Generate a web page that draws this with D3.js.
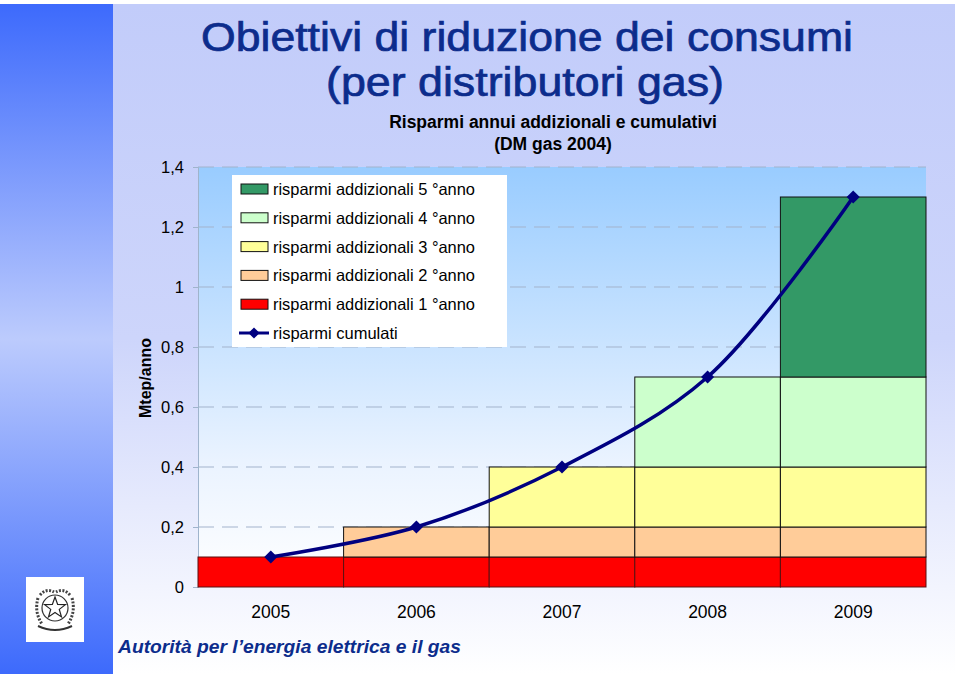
<!DOCTYPE html>
<html><head><meta charset="utf-8">
<script src="https://cdn.jsdelivr.net/npm/d3@7"></script>
<style>html,body{margin:0;padding:0;background:#fff;}svg{display:block;}</style>
</head><body>
<script>
const years = ["2005","2006","2007","2008","2009"];
const series = [
  {name:"risparmi addizionali 1°anno", color:"#ff0000"},
  {name:"risparmi addizionali 2°anno", color:"#ffcc99"},
  {name:"risparmi addizionali 3°anno", color:"#ffff99"},
  {name:"risparmi addizionali 4°anno", color:"#ccffcc"},
  {name:"risparmi addizionali 5°anno", color:"#339966"}
];
const anno1 = [0.1, 0.1, 0.1, 0.1, 0.1];
const anno2 = [0,   0.1, 0.1, 0.1, 0.1];
const anno3 = [0,   0,   0.2, 0.2, 0.2];
const anno4 = [0,   0,   0,   0.3, 0.3];
const anno5 = [0,   0,   0,   0,   0.6];
const cumulati = [0.1, 0.2, 0.4, 0.7, 1.3];
const yTicks = [0, 0.2, 0.4, 0.6, 0.8, 1, 1.2, 1.4];
const yTickLabels = ["0","0,2","0,4","0,6","0,8","1","1,2","1,4"];

const FONT = "Liberation Sans, Arial, sans-serif";
const NARROW = "Liberation Sans Narrow, Arial Narrow, Liberation Sans, sans-serif";
const W = 960, H = 674;
const svg = d3.select("body").append("svg").attr("width", W).attr("height", H);
const defs = svg.append("defs");

const bg = defs.append("linearGradient").attr("id","bg").attr("x1",0).attr("y1",0).attr("x2",0).attr("y2",1);
bg.append("stop").attr("offset","0%").attr("stop-color","#c2ccfa");
bg.append("stop").attr("offset","50%").attr("stop-color","#cdd5fb");
bg.append("stop").attr("offset","100%").attr("stop-color","#ffffff");
const strip = defs.append("linearGradient").attr("id","strip").attr("x1",0).attr("y1",0).attr("x2",0).attr("y2",1);
strip.append("stop").attr("offset","0%").attr("stop-color","#3d6afc");
strip.append("stop").attr("offset","50%").attr("stop-color","#bccbfd");
strip.append("stop").attr("offset","100%").attr("stop-color","#3d6afc");
const plotbg = defs.append("linearGradient").attr("id","plotbg").attr("x1",0).attr("y1",0).attr("x2",0).attr("y2",1);
plotbg.append("stop").attr("offset","0%").attr("stop-color","#99ccff");
plotbg.append("stop").attr("offset","70%").attr("stop-color","#eaf3ff");
plotbg.append("stop").attr("offset","100%").attr("stop-color","#ffffff");

svg.append("rect").attr("x",0).attr("y",0).attr("width",W).attr("height",H).attr("fill","#fff");
svg.append("rect").attr("x",0).attr("y",4).attr("width",955).attr("height",H-4).attr("fill","url(#bg)");
svg.append("rect").attr("x",0).attr("y",4).attr("width",113).attr("height",H-4).attr("fill","url(#strip)");

// titles
svg.append("text").attr("x",527).attr("y",51).attr("text-anchor","middle")
  .attr("font-family",NARROW).attr("font-size",40)
  .attr("fill","#0c2c8c").attr("stroke","#0c2c8c").attr("stroke-width",0.7)
  .attr("textLength",652).attr("lengthAdjust","spacingAndGlyphs")
  .text("Obiettivi di riduzione dei consumi");
svg.append("text").attr("x",525).attr("y",96).attr("text-anchor","middle")
  .attr("font-family",NARROW).attr("font-size",40)
  .attr("fill","#0c2c8c").attr("stroke","#0c2c8c").attr("stroke-width",0.7)
  .attr("textLength",398).attr("lengthAdjust","spacingAndGlyphs")
  .text("(per distributori gas)");
svg.append("text").attr("x",553).attr("y",128).attr("text-anchor","middle")
  .attr("font-family",FONT).attr("font-size",17.5).attr("font-weight","bold")
  .attr("fill","#000").text("Risparmi annui addizionali e cumulativi");
svg.append("text").attr("x",553).attr("y",150).attr("text-anchor","middle")
  .attr("font-family",FONT).attr("font-size",17.5).attr("font-weight","bold")
  .attr("fill","#000").text("(DM gas 2004)");

// plot
const x0 = 198, x1 = 926, yTop = 167, yBot = 587;
const x = d3.scaleBand().domain(years).range([x0, x1]).padding(0);
const y = d3.scaleLinear().domain([0, 1.4]).range([yBot, yTop]);

svg.append("rect").attr("x",x0).attr("y",yTop).attr("width",x1-x0).attr("height",yBot-yTop).attr("fill","url(#plotbg)");

svg.append("g").selectAll("line").data(yTicks.filter(d=>d>0)).join("line")
  .attr("x1",x0).attr("x2",x1).attr("y1",d=>y(d)).attr("y2",d=>y(d))
  .attr("stroke","#a3b3cc").attr("stroke-width",1).attr("stroke-dasharray","16,8");

const yAxis = d3.axisLeft(y).tickValues(yTicks).tickFormat((d,i)=>yTickLabels[i]).tickSize(5).tickPadding(8);
const ga = svg.append("g").attr("transform",`translate(${x0},0)`).call(yAxis);
ga.attr("font-size",null).attr("font-family",null);
ga.select(".domain").attr("stroke","#9fb4cc");
ga.selectAll(".tick line").attr("stroke","#9fb4cc");
ga.selectAll(".tick text").style("font-family",FONT).style("font-size","16.5px").attr("fill","#000").attr("dx",-1);

svg.append("text").attr("transform","translate(151,378) rotate(-90)").attr("text-anchor","middle")
  .attr("font-family",FONT).attr("font-size",16).attr("font-weight","bold")
  .attr("fill","#000").text("Mtep/anno");

// stacked bars
const rows = years.map((yr,i)=>({year:yr, v:[anno1[i],anno2[i],anno3[i],anno4[i],anno5[i]]}));
const stack = d3.stack().keys([0,1,2,3,4]).value((d,k)=>d.v[k]);
const stacked = stack(rows);
stacked.forEach((layer,k)=>{
  svg.append("g").selectAll("rect").data(layer.filter(d=>d[1]-d[0]>0)).join("rect")
    .attr("x",d=>x(d.data.year)).attr("width",x.bandwidth())
    .attr("y",d=>y(d[1])).attr("height",d=>y(d[0])-y(d[1]))
    .attr("fill",series[k].color).attr("stroke", k===0 ? "#5a1010" : "#111").attr("stroke-width",1);
});

// cumulative line
const cx = d=>x(d.year)+x.bandwidth()/2;
const pts = years.map((yr,i)=>({year:yr, v:cumulati[i]}));
svg.append("path").datum(pts).attr("fill","none").attr("stroke","#000080").attr("stroke-width",3.5)
  .attr("d", d3.line().x(cx).y(d=>y(d.v)).curve(d3.curveCatmullRom.alpha(0.5)));
svg.append("g").selectAll("path").data(pts).join("path")
  .attr("transform",d=>`translate(${cx(d)},${y(d.v)})`)
  .attr("d", d3.symbol().type(d3.symbolDiamond2).size(110)).attr("fill","#000080");

// x labels
svg.append("g").selectAll("text").data(years).join("text")
  .attr("x",d=>x(d)+x.bandwidth()/2).attr("y",618).attr("text-anchor","middle")
  .attr("font-family",FONT).attr("font-size",17.5).attr("fill","#000").text(d=>d);

// legend
const lg = svg.append("g");
lg.append("rect").attr("x",232).attr("y",175).attr("width",275).attr("height",172).attr("fill","#fff");
const legendItems = [4,3,2,1,0].map(k=>series[k]);
legendItems.forEach((s,i)=>{
  const yy = 189 + i*28.8;
  lg.append("rect").attr("x",241).attr("y",yy-5).attr("width",27).attr("height",10)
    .attr("fill",s.color).attr("stroke","#111").attr("stroke-width",1);
  lg.append("text").attr("x",273).attr("y",yy+6).attr("font-family",FONT)
    .attr("font-size",16.5).attr("fill","#000").attr("textLength",202).attr("lengthAdjust","spacingAndGlyphs")
    .text(s.name.replace("°"," °"));
});
{
  const yy = 189 + 5*28.8;
  lg.append("line").attr("x1",239).attr("x2",269).attr("y1",yy).attr("y2",yy).attr("stroke","#000080").attr("stroke-width",3);
  lg.append("path").attr("transform",`translate(254,${yy})`).attr("d",d3.symbol().type(d3.symbolDiamond2).size(80)).attr("fill","#000080");
  lg.append("text").attr("x",273).attr("y",yy+6).attr("font-family",FONT)
    .attr("font-size",16.5).attr("fill","#000").text("risparmi cumulati");
}

// logo
const logo = svg.append("g");
logo.append("rect").attr("x",26).attr("y",577).attr("width",58).attr("height",65).attr("fill","#fff");
logo.append("circle").attr("cx",55).attr("cy",608).attr("r",13).attr("fill","none").attr("stroke","#333").attr("stroke-width",1.2);
const star = d3.range(10).map(i=>{const r = i%2? 4.5:11; const a = -Math.PI/2 + i*Math.PI/5; return [55+r*Math.cos(a), 608+r*Math.sin(a)];});
logo.append("polygon").attr("points",star.map(p=>p.join(",")).join(" ")).attr("fill","#fff").attr("stroke","#222").attr("stroke-width",1.2);
logo.append("path").attr("d","M38,598 Q34,612 42,624 M72,598 Q76,612 68,624 M40,595 Q46,588 54,592 M70,595 Q64,588 56,592")
  .attr("fill","none").attr("stroke","#444").attr("stroke-width",3).attr("stroke-dasharray","2,1.5");
logo.append("path").attr("d","M38,626 Q55,634 72,626").attr("fill","none").attr("stroke","#333").attr("stroke-width",2);

// footer
svg.append("text").attr("x",118).attr("y",653)
  .attr("font-family",FONT).attr("font-size",19).attr("font-weight","bold").attr("font-style","italic")
  .attr("fill","#0c2c8c").attr("textLength",343).attr("lengthAdjust","spacingAndGlyphs")
  .text("Autorità per l’energia elettrica e il gas");
</script>
</body></html>
